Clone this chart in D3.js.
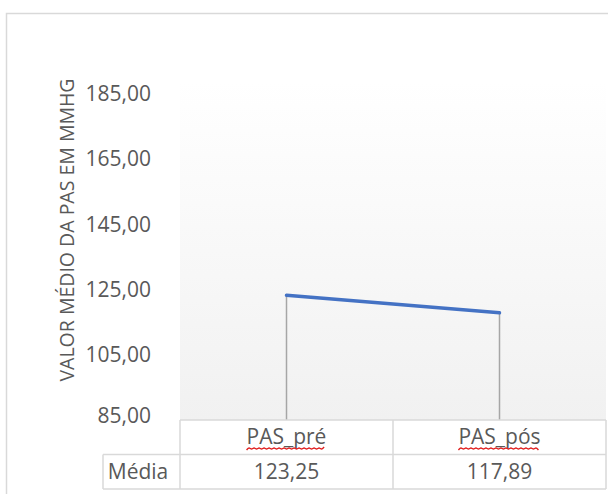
<!doctype html>
<html lang="pt">
<head>
    <meta charset="utf-8">
    <title>Valor médio da PAS</title>
    <style type="text/css">
        body { margin: 0; background: #fff; }
        svg text { font-family: "Open Sans", sans-serif; fill: #595959; }
    </style>
</head>
<body>
    <script src="https://cdnjs.cloudflare.com/ajax/libs/d3/7.8.5/d3.min.js"></script>
    <div id="container"></div>
    <script>
        // data
        var categories = ["PAS_pré", "PAS_pós"]
        var media = [123.25, 117.89]
        var mediaLabels = ["123,25", "117,89"]
        var yTicks = [85, 105, 125, 145, 165, 185]
        var rowLabel = "Média"
        var yTitle = "VALOR MÉDIO DA PAS EM MMHG"

        var width = 608
        height = 494

        var plot = { left: 180, right: 606, top: 82, bottom: 420 }
        var rowH = 34.5

        var svg = d3.select("#container")
            .append("svg")
            .attr("width", width)
            .attr("height", height)

        var x = d3.scaleBand()
            .domain(categories)
            .range([plot.left, plot.right])

        var y = d3.scaleLinear()
            .domain([85, 185])
            .range([plot.bottom, 94])

        // chart border (cut off on the right and bottom)
        svg.append("path")
            .attr("d", "M6.5," + (height + 2) + "V13.5H" + (width + 2))
            .attr("fill", "none")
            .attr("stroke", "#d9d9d9")
            .attr("stroke-width", 1.5)

        // plot area gradient
        var grad = svg.append("defs").append("linearGradient")
            .attr("id", "bg").attr("x1", 0).attr("y1", 0).attr("x2", 0).attr("y2", 1)
        grad.append("stop").attr("offset", "0%").attr("stop-color", "#ffffff")
        grad.append("stop").attr("offset", "100%").attr("stop-color", "#f1f1f1")

        svg.append("rect")
            .attr("x", plot.left)
            .attr("y", plot.top)
            .attr("width", plot.right - plot.left)
            .attr("height", plot.bottom - plot.top)
            .attr("fill", "url(#bg)")

        // y axis labels
        var yAxis = d3.axisLeft(y)
            .tickValues(yTicks)
            .tickSize(0)
            .tickPadding(29)
            .tickFormat(function (d) { return d3.format(".2f")(d).replace(".", ",") })

        var ga = svg.append("g")
            .attr("transform", "translate(" + plot.left + ",0)")
            .call(yAxis)
        ga.select(".domain").remove()
        ga.selectAll("text")
            .attr("font-family", null)
            .style("font-size", "21px")
            .attr("fill", "#595959")
        // the bottom label sits a little higher, just above the table
        ga.selectAll(".tick")
            .filter(function (d) { return d === 85 })
            .select("text")
            .attr("y", -4)

        svg.append("text")
            .attr("transform", "translate(66,230) rotate(-90)")
            .attr("text-anchor", "middle")
            .attr("dominant-baseline", "central")
            .style("font-size", "19.5px")
            .text(yTitle)

        // drop lines
        svg.selectAll(".drop")
            .data(categories)
            .enter()
            .append("line")
            .attr("x1", function (d) { return x(d) + x.bandwidth() / 2 })
            .attr("x2", function (d) { return x(d) + x.bandwidth() / 2 })
            .attr("y1", function (d, i) { return y(media[i]) })
            .attr("y2", plot.bottom)
            .attr("stroke", "#a6a6a6")
            .attr("stroke-width", 1.5)

        // series line
        var line = d3.line()
            .x(function (d, i) { return x(categories[i]) + x.bandwidth() / 2 })
            .y(function (d) { return y(d) })

        svg.append("path")
            .datum(media)
            .attr("d", line)
            .attr("fill", "none")
            .attr("stroke", "#4472c4")
            .attr("stroke-width", 3.5)
            .attr("stroke-linecap", "round")

        // data table
        var t0 = plot.bottom, t1 = t0 + rowH, t2 = t1 + rowH
        var tbl = svg.append("g")
            .attr("stroke", "#d9d9d9")
            .attr("stroke-width", 1.5)
        tbl.append("line").attr("x1", plot.left).attr("x2", plot.right).attr("y1", t0).attr("y2", t0)
        tbl.append("line").attr("x1", 103).attr("x2", plot.right).attr("y1", t1).attr("y2", t1)
        tbl.append("line").attr("x1", 103).attr("x2", plot.right).attr("y1", t2).attr("y2", t2)
        tbl.append("line").attr("x1", 103).attr("x2", 103).attr("y1", t1).attr("y2", t2)
        var xs = categories.map(function (d) { return x(d) }).concat([plot.right])
        tbl.selectAll(".v")
            .data(xs)
            .enter()
            .append("line")
            .attr("x1", function (d) { return d })
            .attr("x2", function (d) { return d })
            .attr("y1", t0)
            .attr("y2", t2)

        var heads = svg.selectAll(".head")
            .data(categories)
            .enter()
            .append("text")
            .attr("x", function (d) { return x(d) + x.bandwidth() / 2 })
            .attr("y", t0 + 24)
            .attr("text-anchor", "middle")
            .style("font-size", "21px")
            .text(function (d) { return d })

        // spell-check squiggle under the headers
        heads.each(function () {
            var b = this.getBBox()
            var pts = []
            for (var px = b.x; px <= b.x + b.width; px += 2.5) {
                pts.push([px, t0 + 28.5 + ((pts.length % 2) ? -1.5 : 1.5)])
            }
            svg.append("path")
                .attr("d", d3.line().curve(d3.curveBasis)(pts))
                .attr("fill", "none")
                .attr("stroke", "#e01e1e")
                .attr("stroke-width", 1.4)
        })

        svg.append("text")
            .attr("x", 138)
            .attr("y", t1 + 24)
            .attr("text-anchor", "middle")
            .style("font-size", "21px")
            .text(rowLabel)

        svg.selectAll(".val")
            .data(mediaLabels)
            .enter()
            .append("text")
            .attr("x", function (d, i) { return x(categories[i]) + x.bandwidth() / 2 })
            .attr("y", t1 + 24)
            .attr("text-anchor", "middle")
            .style("font-size", "21px")
            .text(function (d) { return d })
    </script>
</body>
</html>
